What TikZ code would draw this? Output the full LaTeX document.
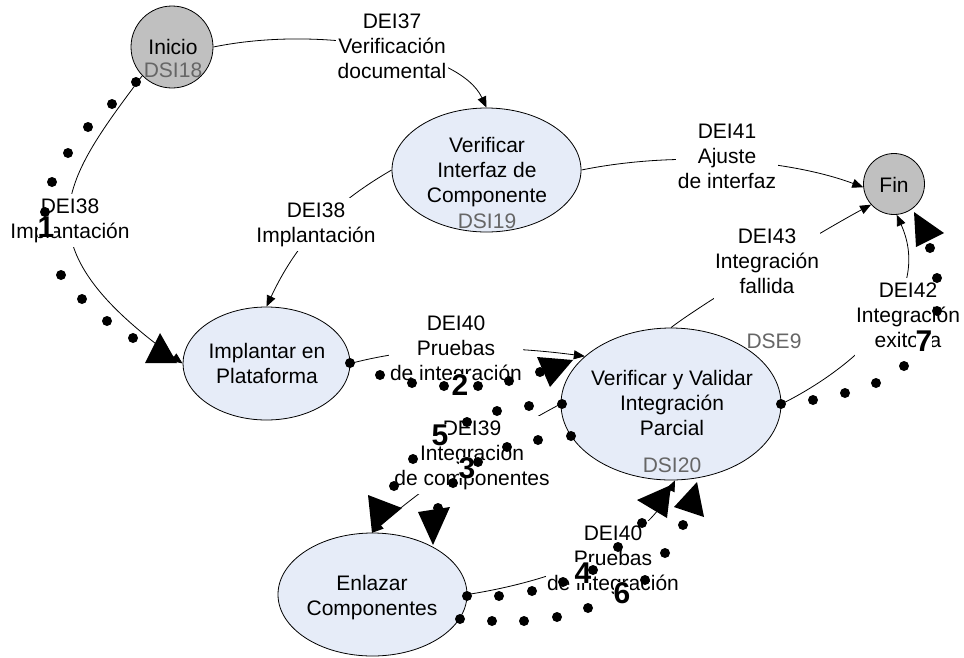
\documentclass[tikz,border=0pt]{standalone}
\usepackage{fontspec}
\setmainfont{Liberation Sans}
\usetikzlibrary{shapes.geometric,arrows.meta}

\definecolor{statefill}{RGB}{192,192,192}
\definecolor{taskfill}{RGB}{230,236,248}
\definecolor{codegray}{RGB}{102,102,102}

% rows of centred text whose baseline is the first row
\newcommand\stacklines[1]{\begin{tabular}[t]{@{}c@{}}#1\end{tabular}}

\begin{document}
\begin{tikzpicture}[x=1pt,y=-1pt,
  every node/.style={font=\fontsize{21}{25}\selectfont},
  endpoint/.style={circle,draw=black,line width=0.8pt,fill=statefill,inner sep=0pt},
  task/.style={ellipse,draw=black,line width=0.8pt,fill=taskfill,inner sep=0pt},
  txt/.style={inner sep=0pt,anchor=base},
  lbl/.style={fill=white,inner sep=1.5pt,anchor=base},
  stepno/.style={font=\fontsize{30}{30}\selectfont\bfseries,fill=white,inner sep=0pt,anchor=base},
  flow/.style={line width=0.8pt,-{Triangle[length=11pt,width=9pt]}},
  tracedot/.style={fill=black},
  tracehead/.style={fill=black}]

\useasboundingbox (0,0) rectangle (964,657);

% ---------- states and activities ----------
\node[endpoint,minimum size=82pt] (inicio) at (172,47) {};
\node[endpoint,minimum size=61pt] (fin) at (894,184) {};
\node[task,minimum width=189pt,minimum height=124pt] (vi) at (486.5,170) {};
\node[task,minimum width=167pt,minimum height=113pt] (impl) at (266.5,363.5) {};
\node[task,minimum width=220pt,minimum height=152pt] (vvip) at (671,404) {};
\node[task,minimum width=189pt,minimum height=123pt] (enl) at (372.5,594.5) {};

% ---------- transitions ----------
\draw[flow] (inicio.east) .. controls (320,25) and (460,50) .. (vi.north);
\draw[flow] (vi.west) .. controls (340,200) and (300,235) .. (impl.north);
\draw[flow] (inicio.224) .. controls (61,184) and (17,244) .. (impl.west);
\draw[flow] (vi.east) .. controls (680,150) and (790,160) .. (fin.186);
\draw[flow] (vvip.north) .. controls (700,305) and (820,232) .. (fin.222);
\draw[flow] (vvip.east) .. controls (850,370) and (935,300) .. (fin.275);
\draw[flow] (impl.east) .. controls (420,345) and (500,345) .. (vvip.151);
\draw[flow] (vvip.west) .. controls (520,425) and (430,480) .. (enl.north);
\draw[flow] (enl.east) .. controls (560,580) and (645,545) .. (vvip.273);

% ---------- texts inside the shapes ----------
\node[txt] (inicio-t) at (173,54) {\stacklines{Inicio\\[-2pt]\textcolor{codegray}{DSI18}}};
\node[txt] (fin-t) at (894,192) {Fin};
\node[txt] (vi-t) at (487,152) {\stacklines{Verificar\\Interfaz de\\Componente\\[1pt]\textcolor{codegray}{DSI19}}};
\node[txt] (impl-t) at (267,358) {\stacklines{Implantar en\\Plataforma}};
\node[txt] (vvip-t) at (672,385) {\stacklines{Verificar y Validar\\Integración\\Parcial\\[12pt]\textcolor{codegray}{DSI20}}};
\node[txt,text=codegray] (dse) at (774,348) {DSE9};
\node[txt] (enl-t) at (372,590) {\stacklines{Enlazar\\Componentes}};

% ---------- transition labels ----------
\node[lbl] (l37) at (392,28) {\stacklines{DEI37\\Verificación\\documental}};
\node[lbl] (l38a) at (70,213) {\stacklines{DEI38\\Implantación}};
\node[lbl] (l38b) at (316,217) {\stacklines{DEI38\\Implantación}};
\node[lbl] (l41) at (727,138) {\stacklines{DEI41\\Ajuste\\de interfaz}};
\node[lbl] (l43) at (767,243) {\stacklines{DEI43\\Integración\\fallida}};
\node[lbl] (l42) at (908,297) {\stacklines{DEI42\\Integración\\exitosa}};
\node[lbl] (l40a) at (456,330) {\stacklines{DEI40\\Pruebas\\de integración}};
\node[lbl] (l39) at (472,435) {\stacklines{DEI39\\Integración\\de componentes}};
\node[lbl] (l40b) at (613,540) {\stacklines{DEI40\\Pruebas\\de integración}};

% ---------- step numbers ----------
\node[stepno] (n1) at (46,237) {1};
\node[stepno] (n2) at (460,395) {2};
\node[stepno] (n3) at (467,478) {3};
\node[stepno] (n4) at (583,583) {4};
\node[stepno] (n5) at (440,445) {5};
\node[stepno] (n6) at (622,603) {6};
\node[stepno] (n7) at (924,351) {7};

% ---------- dotted execution traces ----------
\foreach \p in {(136,82),(112,104),(88,127),(68,153),(52,182),(45,212),(61,275),(82,299),(107,321),(133,338),
                (350,363),(380,375),(412,383),(444,386),(478,386),(509,381),(540,372),
                (571,436),(538,440),(507,447),(478,462),(453,483),(438,508),
                (467,596),(499,596),(532,591),(563,582),(593,570),(618,547),(642,523),
                (562,404),(529,406),(497,411),(467,422),(413,459),(394,486),
                (460,619),(492,621),(524,621),(557,617),(588,608),(645,580),(665,553),(683,525),
                (781,404),(813,400),(845,393),(876,383),(904,366),(937,311),(937,278),(930,248)}
  \fill[tracedot] \p circle[radius=5];

% trace arrowheads
\fill[tracehead] (145,363) -- (160,333) -- (177,363) -- cycle;
\fill[tracehead] (537,357) -- (573,360) -- (550,387) -- cycle;
\fill[tracehead] (418,512) -- (450,507) -- (433,545) -- cycle;
\fill[tracehead] (637,500) -- (671,485) -- (667,518) -- cycle;
\fill[tracehead] (368,495) -- (402,508) -- (372,533) -- cycle;
\fill[tracehead] (674,507) -- (697,482) -- (704,517) -- cycle;
\fill[tracehead] (914,212) -- (944,233) -- (916,247) -- cycle;

\end{tikzpicture}
\end{document}
